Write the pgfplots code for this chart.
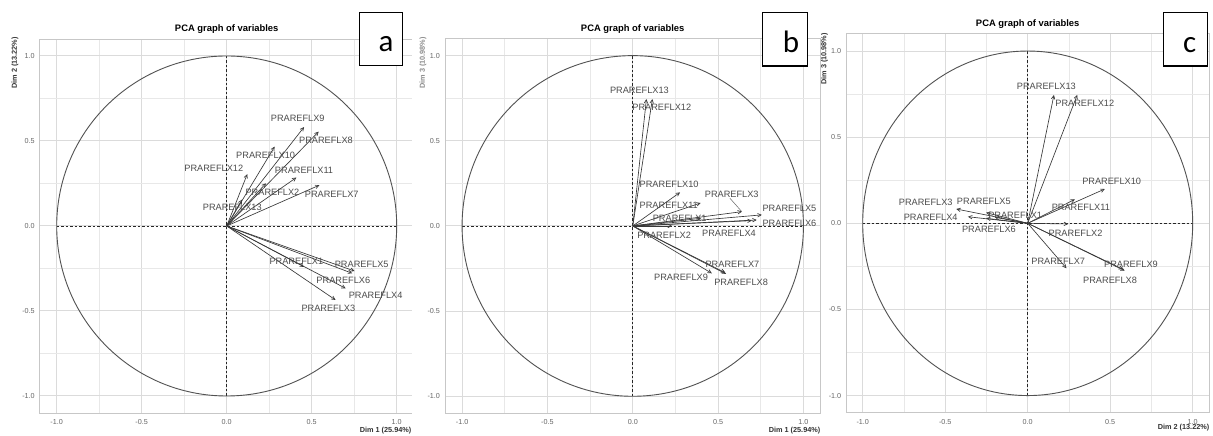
\documentclass[border=0pt]{standalone}
\usepackage{fontspec}
\setmainfont{Liberation Sans}
\newfontfamily\carlito{Carlito}
\usepackage{pgfplots}
\pgfplotsset{compat=1.18}
\usepackage{pgfplotstable}
\usetikzlibrary{arrows.meta}

% panel a: Dim1 x Dim2
\pgfplotstableread{
name x y lx ly
PRAREFLX1 0.455 -0.240 0.410 -0.206
PRAREFLX2 0.231 0.251 0.269 0.198
PRAREFLX3 0.640 -0.435 0.598 -0.484
PRAREFLX4 0.700 -0.367 0.876 -0.406
PRAREFLX5 0.752 -0.265 0.794 -0.225
PRAREFLX6 0.738 -0.278 0.686 -0.318
PRAREFLX7 0.545 0.240 0.618 0.188
PRAREFLX8 0.541 0.555 0.584 0.502
PRAREFLX9 0.455 0.582 0.418 0.633
PRAREFLX10 0.282 0.467 0.229 0.418
PRAREFLX11 0.410 0.285 0.455 0.329
PRAREFLX12 0.121 0.305 -0.076 0.339
PRAREFLX13 0.090 0.155 0.033 0.110
}\tblA
% panel b: Dim1 x Dim3
\pgfplotstableread{
name x y lx ly
PRAREFLX1 0.400 0.045 0.275 0.045
PRAREFLX2 0.230 0.000 0.184 -0.057
PRAREFLX3 0.640 0.084 0.580 0.188
PRAREFLX4 0.697 0.031 0.564 -0.043
PRAREFLX5 0.756 0.065 0.918 0.104
PRAREFLX6 0.726 0.035 0.918 0.016
PRAREFLX7 0.541 -0.274 0.584 -0.225
PRAREFLX8 0.547 -0.282 0.635 -0.332
PRAREFLX9 0.463 -0.278 0.283 -0.301
PRAREFLX10 0.277 0.197 0.213 0.245
PRAREFLX11 0.398 0.135 0.211 0.119
PRAREFLX12 0.115 0.745 0.170 0.695
PRAREFLX13 0.080 0.745 0.039 0.794
}\tblB
% panel c: Dim2 x Dim3
\pgfplotstableread{
name x y lx ly
PRAREFLX1 -0.200 0.035 -0.076 0.048
PRAREFLX2 0.245 -0.004 0.290 -0.058
PRAREFLX3 -0.433 0.083 -0.618 0.120
PRAREFLX4 -0.362 0.038 -0.588 0.037
PRAREFLX5 -0.252 0.062 -0.266 0.130
PRAREFLX6 -0.252 0.029 -0.235 -0.035
PRAREFLX7 0.235 -0.261 0.185 -0.222
PRAREFLX8 0.588 -0.275 0.499 -0.333
PRAREFLX9 0.577 -0.267 0.626 -0.238
PRAREFLX10 0.467 0.199 0.509 0.242
PRAREFLX11 0.286 0.139 0.322 0.091
PRAREFLX12 0.300 0.745 0.346 0.696
PRAREFLX13 0.159 0.745 0.113 0.793
}\tblC

\pgfplotsset{
  pca/.style={
    scale only axis, anchor=south west,
    xmin=-1.1, xmax=1.1, ymin=-1.1, ymax=1.1,
    xtick={-1,-0.5,0,0.5,1}, ytick={-1,-0.5,0,0.5,1},
    xticklabels={-1.0,-0.5,0.0,0.5,1.0}, yticklabels={-1.0,-0.5,0.0,0.5,1.0},
    minor xtick={-0.75,-0.25,0.25,0.75}, minor ytick={-0.75,-0.25,0.25,0.75},
    grid=both,
    major grid style={draw=black!14, line width=1pt},
    minor grid style={draw=black!9, line width=0.8pt},
    axis line style={draw=black!22, line width=0.9pt},
    major tick length=0pt, minor tick length=0pt,
    tick label style={font=\fontsize{7.2}{8}\selectfont, text=black!60},
    xticklabel style={anchor=center, yshift=-9pt},
    yticklabel style={xshift=-1.5pt},
    axis background/.style={fill=white},
  },
  zeroline/.style={draw=black!85, line width=0.75pt, dash pattern=on 2.5pt off 2pt},
  arr/.style={draw=black!78, line width=0.65pt, -{Straight Barb[length=3.5pt,width=3.5pt]}, quiver={u=\thisrow{x}, v=\thisrow{y}}},
  lab/.style={draw=none, nodes near coords, point meta=explicit symbolic, nodes near coords style={anchor=center, font=\fontsize{9.2}{10}\selectfont, text=black!70, inner sep=0pt}},
}

\begin{document}
\begin{tikzpicture}
\useasboundingbox (0,0) rectangle (1213pt,436pt);
\clip (0,0) rectangle (1213pt,436pt);
\fill[white] (0,0) rectangle (1213pt,436pt);

% ---------- panel a
\begin{axis}[pca, at={(39.7pt,23pt)}, width=374pt, height=374pt]
  \addplot[zeroline] coordinates {(-1,0) (1,0)};
  \addplot[zeroline] coordinates {(0,-1) (0,1)};
  \draw[black!68, line width=0.9pt] (axis cs:0,0) ellipse [x radius=1, y radius=1];
  \addplot[arr] table[x expr=0, y expr=0] {\tblA};
  \addplot[lab] table[x=lx, y=ly, meta=name] {\tblA};
\end{axis}

% ---------- panel b
\fill[white] (412pt,0) rectangle (821.5pt,436pt);
\begin{axis}[pca, at={(445pt,22.7pt)}, width=375.5pt, height=374.7pt]
  \addplot[zeroline] coordinates {(-1,0) (1,0)};
  \addplot[zeroline] coordinates {(0,-1) (0,1)};
  \draw[black!68, line width=0.9pt] (axis cs:0,0) ellipse [x radius=1, y radius=1];
  \addplot[arr] table[x expr=0, y expr=0] {\tblB};
  \addplot[draw=black!60, line width=0.5pt] coordinates {(0.569,0.163) (0.638,0.085)};
  \addplot[lab] table[x=lx, y=ly, meta=name] {\tblB};
\end{axis}

% ---------- panel c
\fill[white] (821.5pt,0) rectangle (1213pt,436pt);
\begin{axis}[pca, at={(846.2pt,23.2pt)}, width=363pt, height=379pt]
  \addplot[zeroline] coordinates {(-1,0) (1,0)};
  \addplot[zeroline] coordinates {(0,-1) (0,1)};
  \draw[black!68, line width=0.9pt] (axis cs:0,0) ellipse [x radius=1, y radius=1];
  \addplot[arr] table[x expr=0, y expr=0] {\tblC};
  \addplot[lab] table[x=lx, y=ly, meta=name] {\tblC};
\end{axis}

% titles
\tikzset{ttl/.style={font=\bfseries\fontsize{9.4}{11}\selectfont, inner sep=0pt},
         axl/.style={font=\bfseries\fontsize{7.3}{8}\selectfont, text=black!80, inner sep=0pt}}
\node[ttl] at (226.7pt,407pt) {PCA graph of variables};
\node[ttl] at (632.7pt,406.7pt) {PCA graph of variables};
\node[ttl] at (1027.7pt,412pt) {PCA graph of variables};

% axis titles
\node[axl, rotate=90, anchor=east] at (15pt,399pt) {Dim 2 (13.22\%)};
\node[axl, anchor=east] at (411.5pt,5pt) {Dim 1 (25.94\%)};
\node[axl, text=black!45, rotate=90, anchor=east] at (423pt,399pt) {Dim 3 (10.98\%)};
\node[axl, anchor=east] at (820.5pt,5pt) {Dim 1 (25.94\%)};
\begin{scope}
  \clip (821.5pt,0) rectangle (1213pt,436pt);
  \node[axl, rotate=90, anchor=east] at (824.5pt,403pt) {Dim 3 (10.98\%)};
\end{scope}
\node[axl, anchor=east] at (1209.5pt,8pt) {Dim 2 (13.22\%)};

% panel letters
\tikzset{lett/.style={anchor=base, inner sep=0pt, font=\carlito\fontsize{31}{31}\selectfont}}
\draw[line width=1.3pt, fill=white] (359.3pt,370.3pt) rectangle (402.7pt,423.3pt);
\node[lett] at (386pt,384pt) {a};
\draw[line width=1.3pt, fill=white] (762.7pt,370pt) rectangle (807.3pt,423.3pt);
\node[lett] at (791pt,383.3pt) {b};
\draw[line width=1.3pt, fill=white] (1163.3pt,370pt) rectangle (1207.7pt,423.3pt);
\node[lett] at (1189.7pt,383.3pt) {c};
\end{tikzpicture}
\end{document}
